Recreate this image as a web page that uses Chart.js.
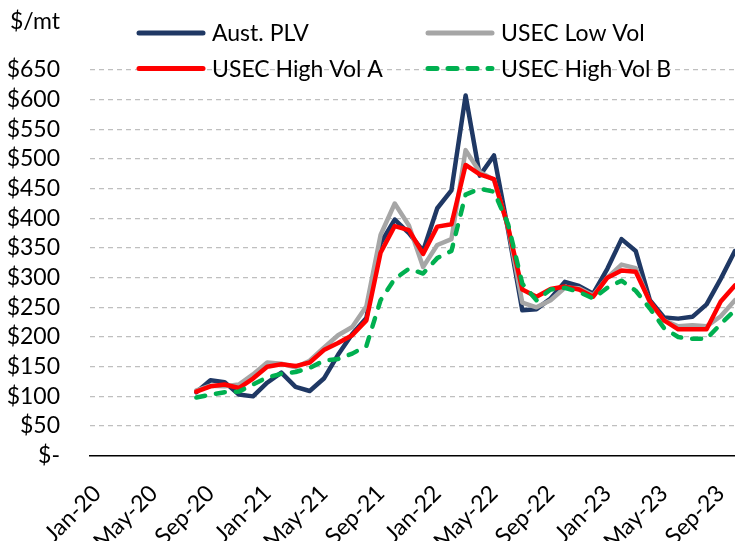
<!DOCTYPE html>
<html>
<head>
<meta charset="utf-8">
<script src="https://cdn.jsdelivr.net/npm/chart.js@4.4.1/dist/chart.umd.min.js"></script>
<style>
  html, body { margin: 0; padding: 0; overflow: hidden; background: #fff; }
  #wrap { width: 742px; height: 541px; }
</style>
</head>
<body>
<div id="wrap"><canvas id="chart_canvas" width="742" height="541"></canvas></div>
<script>
// months on the category axis (only every 4th is labelled)
const months = [
  'Jan-20','Feb-20','Mar-20','Apr-20','May-20','Jun-20','Jul-20','Aug-20','Sep-20','Oct-20','Nov-20','Dec-20',
  'Jan-21','Feb-21','Mar-21','Apr-21','May-21','Jun-21','Jul-21','Aug-21','Sep-21','Oct-21','Nov-21','Dec-21',
  'Jan-22','Feb-22','Mar-22','Apr-22','May-22','Jun-22','Jul-22','Aug-22','Sep-22','Oct-22','Nov-22','Dec-22',
  'Jan-23','Feb-23','Mar-23','Apr-23','May-23','Jun-23','Jul-23','Aug-23','Sep-23','Oct-23'
];

// $/mt, no data before Aug-20
const aust_plv = [
  null, null, null, null, null, null, null, 107, 127, 124, 103, 100,
  123, 140, 116, 109, 130, 170, 205, 232, 358, 398, 375, 345,
  417, 447, 607, 472, 506, 380, 245, 247, 265, 293, 286, 273,
  315, 365, 345, 262, 233, 231, 234, 255, 298, 345
];
const usec_low_vol = [
  null, null, null, null, null, null, null, 110, 118, 117, 120, 137,
  157, 155, 149, 160, 182, 203, 217, 252, 372, 425, 388, 318,
  355, 365, 515, 478, 465, 385, 258, 250, 262, 283, 282, 270,
  300, 322, 316, 258, 228, 218, 220, 218, 235, 262
];
const usec_high_vol_a = [
  null, null, null, null, null, null, null, 108, 117, 120, 114, 130,
  150, 154, 151, 157, 178, 190, 203, 228, 342, 387, 380, 340,
  386, 390, 490, 474, 466, 385, 280, 268, 281, 285, 280, 268,
  300, 312, 310, 260, 228, 213, 213, 213, 260, 287
];
const usec_high_vol_b = [
  null, null, null, null, null, null, null, 98, 103, 107, 108, 120,
  132, 138, 141, 148, 160, 163, 172, 185, 262, 298, 315, 307,
  333, 345, 440, 450, 445, 390, 290, 262, 280, 283, 276, 265,
  283, 295, 278, 248, 215, 200, 197, 197, 222, 245
];

const FONT = 'Lato';

// legend is drawn by hand in a 2x2 grid over the plot, like the excel original
const legend_pos = [[137, 33], [426, 33], [137, 68.5], [426, 68.5]];

const overlay_plugin = {
  id: 'overlay',
  afterDraw(chart) {
    const ctx = chart.ctx;
    ctx.save();
    ctx.fillStyle = '#000';
    ctx.font = '23px ' + FONT;
    ctx.textBaseline = 'middle';
    ctx.textAlign = 'left';
    ctx.fillText('$/mt', 10, 22);

    chart.data.datasets.forEach((ds, i) => {
      const [x, y] = legend_pos[i];
      ctx.strokeStyle = ds.borderColor;
      ctx.lineWidth = 5;
      ctx.lineCap = 'round';
      ctx.setLineDash(ds.borderDash ? [9, 11] : []);
      ctx.beginPath();
      ctx.moveTo(x + 2, y);
      ctx.lineTo(x + 66, y);
      ctx.stroke();
      ctx.setLineDash([]);
      ctx.fillText(ds.label, x + 75, y + 1);
    });
    ctx.restore();
  }
};

function line_ds(label, data, color, order, dash) {
  return {
    label: label,
    data: data,
    borderColor: color,
    backgroundColor: color,
    borderWidth: 4.5,
    borderDash: dash || undefined,
    borderCapStyle: 'round',
    borderJoinStyle: 'round',
    pointRadius: 0,
    pointHoverRadius: 0,
    tension: 0,
    fill: false,
    order: order
  };
}

const ctx_1 = document.getElementById('chart_canvas');

new Chart(ctx_1, {
  type: 'line',
  data: {
    labels: months,
    datasets: [
      line_ds('Aust. PLV', aust_plv, '#1f3864', 4),
      line_ds('USEC Low Vol', usec_low_vol, '#a6a6a6', 3),
      line_ds('USEC High Vol A', usec_high_vol_a, '#ff0000', 2),
      line_ds('USEC High Vol B', usec_high_vol_b, '#00b050', 1, [9, 11])
    ]
  },
  options: {
    responsive: false,
    animation: false,
    devicePixelRatio: 1,
    layout: { padding: { top: 70, left: 0, right: 0, bottom: 0 } },
    plugins: {
      legend: { display: false },
      tooltip: { enabled: false }
    },
    scales: {
      x: {
        offset: true,
        grid: { display: false, drawTicks: false },
        border: { display: true, color: '#000', width: 1.5 },
        ticks: {
          autoSkip: false,
          maxRotation: 45,
          minRotation: 45,
          padding: 24,
          color: '#000',
          font: { family: FONT, size: 23 },
          callback: function (val, i) {
            return i % 4 === 0 ? this.getLabelForValue(val) : '';
          }
        },
        afterFit: (scale) => {
          scale.height = 85.3;
          // the plot runs off the right edge, no room kept for labels
          scale.paddingLeft = 0;
          scale.paddingRight = 0;
        }
      },
      y: {
        min: 0,
        max: 650,
        border: { display: false, dash: [5, 4] },
        grid: {
          drawTicks: false,
          lineWidth: 1.3,
          color: (c) => (c.tick && c.tick.value === 0) ? 'rgba(0,0,0,0)' : '#bfbfbf'
        },
        ticks: {
          stepSize: 50,
          autoSkip: false,
          padding: 30,
          color: '#000',
          font: { family: FONT, size: 23 },
          callback: (v) => v === 0 ? '$-' : '$' + v
        },
        afterFit: (scale) => { scale.width = 90; }
      }
    }
  },
  plugins: [overlay_plugin]
});
</script>
</body>
</html>
